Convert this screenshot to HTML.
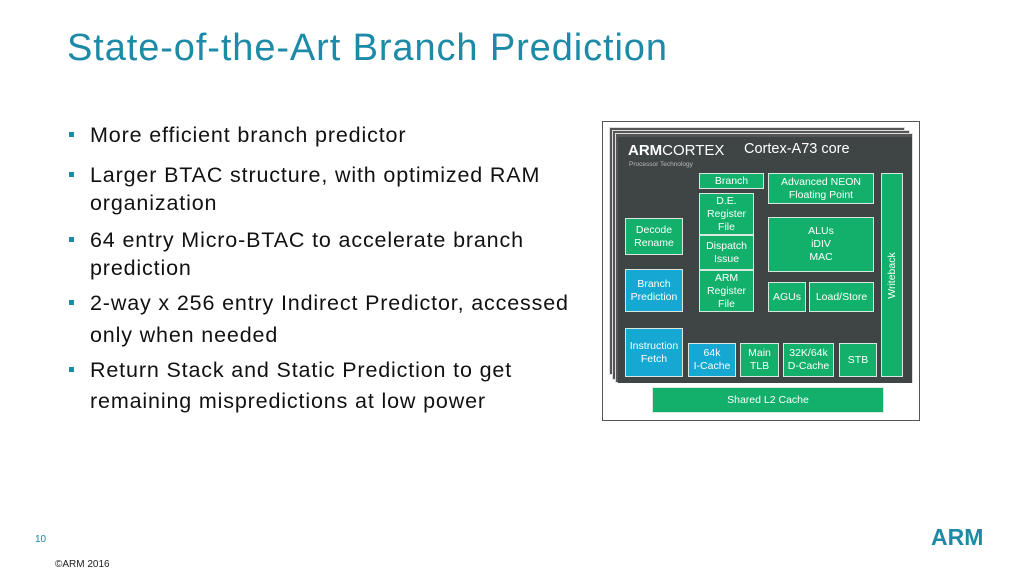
<!DOCTYPE html>
<html><head><style>
body{margin:0;width:1024px;height:576px;background:#fff;position:relative;overflow:hidden;font-family:"Liberation Sans",sans-serif}
.t{position:absolute;left:67px;top:27px;font-size:38px;color:#1d8aa8;white-space:nowrap;letter-spacing:0.9px}
.l{position:absolute;left:90px;font-size:21.5px;color:#111;white-space:nowrap;line-height:24px;letter-spacing:0.85px}
.b{position:absolute;left:69px;width:5px;height:5px;background:#1d8aa8}
.bx{position:absolute;box-sizing:border-box;border:1px solid #d8e8e0;background:#12b06a;color:#fff;font-size:10.5px;line-height:13px;display:flex;align-items:center;justify-content:center;text-align:center}
.c{background:#14a8d2}
</style></head><body>
<div class="t">State-of-the-Art Branch Prediction</div>
<div class="b" style="top:132px"></div><div class="l" style="top:123px">More efficient branch predictor</div>
<div class="b" style="top:172px"></div><div class="l" style="top:163px">Larger BTAC structure, with optimized RAM</div>
<div class="l" style="top:191px">organization</div>
<div class="b" style="top:237px"></div><div class="l" style="top:228px">64 entry Micro-BTAC to accelerate branch</div>
<div class="l" style="top:256px">prediction</div>
<div class="b" style="top:300px"></div><div class="l" style="top:291px">2-way x 256 entry Indirect Predictor, accessed</div>
<div class="l" style="top:323px">only when needed</div>
<div class="b" style="top:367px"></div><div class="l" style="top:358px">Return Stack and Static Prediction to get</div>
<div class="l" style="top:389px">remaining mispredictions at low power</div>

<div style="position:absolute;left:602px;top:121px;width:318px;height:300px;box-sizing:border-box;border:1.5px solid #555;background:#fff"></div>
<div style="position:absolute;left:609px;top:127px;width:294px;height:246px;background:#555;border:1px solid #ddd"></div>
<div style="position:absolute;left:612px;top:130px;width:296px;height:248px;background:#555;border:1px solid #ddd"></div>
<div style="position:absolute;left:615px;top:133px;width:296px;height:248px;background:#555;border:1px solid #ddd"></div>
<div style="position:absolute;left:618px;top:137px;width:294px;height:246px;background:#3f4444"></div>
<div style="position:absolute;left:628px;top:142px;color:#fff;font-size:15px;white-space:nowrap"><b>ARM</b>CORTEX</div>
<div style="position:absolute;left:744px;top:141px;color:#fff;font-size:14.5px;white-space:nowrap">Cortex-A73 core</div>
<div style="position:absolute;left:629px;top:161px;color:#bbb;font-size:6.5px;white-space:nowrap">Processor Technology</div>

<div class="bx" style="left:699px;top:173px;width:65px;height:16px">Branch</div>
<div class="bx" style="left:768px;top:173px;width:106px;height:31px">Advanced NEON<br>Floating Point</div>
<div class="bx" style="left:699px;top:193px;width:55px;height:42px">D.E.<br>Register<br>File</div>
<div class="bx" style="left:699px;top:235px;width:55px;height:35px">Dispatch<br>Issue</div>
<div class="bx" style="left:699px;top:270px;width:55px;height:42px">ARM<br>Register<br>File</div>
<div class="bx" style="left:625px;top:218px;width:58px;height:37px">Decode<br>Rename</div>
<div class="bx c" style="left:625px;top:269px;width:58px;height:43px">Branch<br>Prediction</div>
<div class="bx c" style="left:625px;top:328px;width:58px;height:49px">Instruction<br>Fetch</div>
<div class="bx" style="left:768px;top:217px;width:106px;height:55px">ALUs<br>iDIV<br>MAC</div>
<div class="bx" style="left:768px;top:282px;width:38px;height:30px">AGUs</div>
<div class="bx" style="left:809px;top:282px;width:65px;height:30px">Load/Store</div>
<div class="bx" style="left:881px;top:173px;width:22px;height:204px"><span style="transform:rotate(-90deg);white-space:nowrap">Writeback</span></div>
<div class="bx c" style="left:688px;top:343px;width:48px;height:34px">64k<br>I-Cache</div>
<div class="bx" style="left:740px;top:343px;width:39px;height:34px">Main<br>TLB</div>
<div class="bx" style="left:783px;top:343px;width:51px;height:34px">32K/64k<br>D-Cache</div>
<div class="bx" style="left:839px;top:343px;width:38px;height:34px">STB</div>
<div class="bx" style="left:652px;top:387px;width:232px;height:26px">Shared L2 Cache</div>

<div style="position:absolute;left:35px;top:534px;font-size:10px;color:#1d8aa8">10</div>
<div style="position:absolute;left:55px;top:559px;font-size:10px;color:#222">©ARM 2016</div>
<div style="position:absolute;left:931px;top:524px;font-size:23px;font-weight:bold;color:#1d8aa8">ARM</div>
</body></html>
